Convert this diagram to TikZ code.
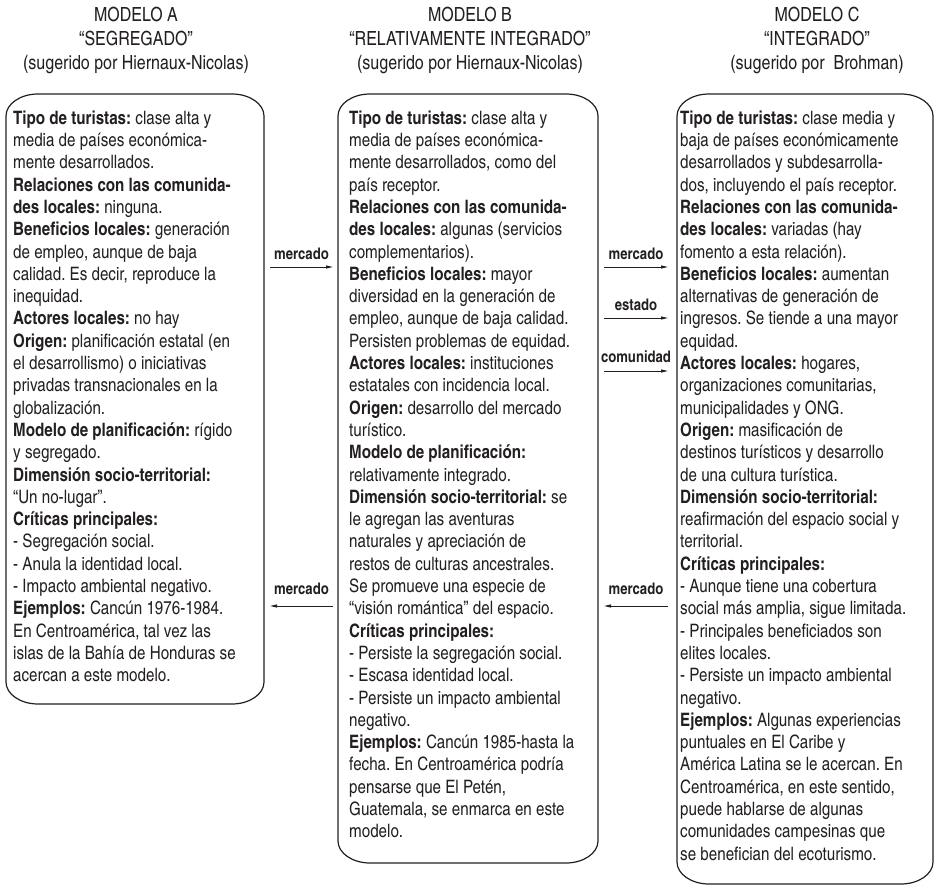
\documentclass[tikz,border=0pt]{standalone}
\usepackage{fontspec}
\setmainfont{texgyreheroscn}[Extension=.otf, UprightFont=*-regular, BoldFont=*-bold, ItalicFont=*-italic, BoldItalicFont=*-bolditalic]
\usetikzlibrary{arrows.meta,calc}
\definecolor{ink}{HTML}{231F20}
\frenchspacing
\tikzset{
  box/.style={anchor=north west, inner sep=0pt, outer sep=0pt},
  boxline/.style={draw=ink, line width=1.2pt},
  body/.style={anchor=north west, inner sep=0pt, align=left, text=ink, font=\fontsize{18.5}{22.3}\selectfont\frenchspacing},
  title/.style={anchor=north, inner sep=0pt, align=center, text=ink, font=\fontsize{19.5}{23.8}\selectfont\frenchspacing},
  lbl/.style={inner sep=0pt, text=ink, font=\fontsize{16}{18}\selectfont\bfseries},
  flow/.style={draw=ink, line width=0.9pt, -{Triangle[length=7pt,width=3pt]}}
}
% outline with elliptical corners round a named node
\newcommand\roundoutline[1]{%
\draw[boxline] ($(#1.north west)+(32,0)$) -- ($(#1.north east)+(-32,0)$)
 .. controls ($(#1.north east)+(-14.3,0)$) and ($(#1.north east)+(0,9.9)$) .. ($(#1.north east)+(0,22)$)
 -- ($(#1.south east)+(0,-22)$)
 .. controls ($(#1.south east)+(0,-9.9)$) and ($(#1.south east)+(-14.3,0)$) .. ($(#1.south east)+(-32,0)$)
 -- ($(#1.south west)+(32,0)$)
 .. controls ($(#1.south west)+(14.3,0)$) and ($(#1.south west)+(0,-9.9)$) .. ($(#1.south west)+(0,-22)$)
 -- ($(#1.north west)+(0,22)$)
 .. controls ($(#1.north west)+(0,9.9)$) and ($(#1.north west)+(14.3,0)$) .. cycle;}
\begin{document}
\begin{tikzpicture}[x=1pt,y=-1pt]
\useasboundingbox (0,0) rectangle (937,890);

% titles
\node[title] (tA) at (136,7) {MODELO A\\“SEGREGADO”\\(sugerido por Hiernaux-Nicolas)};
\node[title] (tB) at (470,7) {MODELO B\\“RELATIVAMENTE INTEGRADO”\\(sugerido por Hiernaux-Nicolas)};
\node[title] (tC) at (817,7) {MODELO C\\“INTEGRADO”\\(sugerido por \ Brohman)};

% boxes
\node[box, minimum width=258pt, minimum height=610pt] (boxA) at (6,94) {};
\node[box, minimum width=260pt, minimum height=769pt] (boxB) at (338,94) {};
\node[box, minimum width=256pt, minimum height=790pt] (boxC) at (677,94) {};
\roundoutline{boxA}
\roundoutline{boxB}
\roundoutline{boxC}

% texts
\node[body] (txtA) at (13,110.5) {\textbf{Tipo de turistas:} clase alta y\\
media de países económica-\\
mente desarrollados.\\
\textbf{Relaciones con las comunida-}\\
\textbf{des locales:} ninguna.\\
\textbf{Beneficios locales:} generación\\
de empleo, aunque de baja\\
calidad. Es decir, reproduce la\\
inequidad.\\
\textbf{Actores locales:} no hay\\
\textbf{Origen:} planificación estatal (en\\
el desarrollismo) o iniciativas\\
privadas transnacionales en la\\
globalización.\\
\textbf{Modelo de planificación:} rígido\\
y segregado.\\
\textbf{Dimensión socio-territorial:}\\
“Un no-lugar”.\\
\textbf{Críticas principales:}\\
- Segregación social.\\
- Anula la identidad local.\\
- Impacto ambiental negativo.\\
\textbf{Ejemplos:} Cancún 1976-1984.\\
En Centroamérica, tal vez las\\
islas de la Bahía de Honduras se\\
acercan a este modelo.};

\node[body] (txtB) at (349,110.5) {\textbf{Tipo de turistas:} clase alta y\\
media de países económica-\\
mente desarrollados, como del\\
país receptor.\\
\textbf{Relaciones con las comunida-}\\
\textbf{des locales:} algunas (servicios\\
complementarios).\\
\textbf{Beneficios locales:} mayor\\
diversidad en la generación de\\
empleo, aunque de baja calidad.\\
Persisten problemas de equidad.\\
\textbf{Actores locales:} instituciones\\
estatales con incidencia local.\\
\textbf{Origen:} desarrollo del mercado\\
turístico.\\
\textbf{Modelo de planificación:}\\
relativamente integrado.\\
\textbf{Dimensión socio-territorial:} se\\
le agregan las aventuras\\
naturales y apreciación de\\
restos de culturas ancestrales.\\
Se promueve una especie de\\
“visión romántica” del espacio.\\
\textbf{Críticas principales:}\\
- Persiste la segregación social.\\
- Escasa identidad local.\\
- Persiste un impacto ambiental\\
negativo.\\
\textbf{Ejemplos:} Cancún 1985-hasta la\\
fecha. En Centroamérica podría\\
pensarse que El Petén,\\
Guatemala, se enmarca en este\\
modelo.};

\node[body] (txtC) at (680,110.5) {\textbf{Tipo de turistas:} clase media y\\
baja de países económicamente\\
desarrollados y subdesarrolla-\\
dos, incluyendo el país receptor.\\
\textbf{Relaciones con las comunida-}\\
\textbf{des locales:} variadas (hay\\
fomento a esta relación).\\
\textbf{Beneficios locales:} aumentan\\
alternativas de generación de\\
ingresos. Se tiende a una mayor\\
equidad.\\
\textbf{Actores locales:} hogares,\\
organizaciones comunitarias,\\
municipalidades y ONG.\\
\textbf{Origen:} masificación de\\
destinos turísticos y desarrollo\\
de una cultura turística.\\
\textbf{Dimensión socio-territorial:}\\
reafirmación del espacio social y\\
territorial.\\
\textbf{Críticas principales:}\\
- Aunque tiene una cobertura\\
social más amplia, sigue limitada.\\
- Principales beneficiados son\\
elites locales.\\
- Persiste un impacto ambiental\\
negativo.\\
\textbf{Ejemplos:} Algunas experiencias\\
puntuales en El Caribe y\\
América Latina se le acercan. En\\
Centroamérica, en este sentido,\\
puede hablarse de algunas\\
comunidades campesinas que\\
se benefician del ecoturismo.};

% connectors A <-> B
\coordinate (ab1s) at (270,267);
\coordinate (ab1e) at (333,267);
\node[lbl] (lab1) at (301.5,254) {mercado};
\draw[flow] (ab1s) -- (ab1e);

\coordinate (ab2s) at (333,606);
\coordinate (ab2e) at (270,606);
\node[lbl] (lab2) at (301.5,589) {mercado};
\draw[flow] (ab2s) -- (ab2e);

% connectors B <-> C
\coordinate (bc1s) at (604,267);
\coordinate (bc1e) at (668,267);
\node[lbl] (lbc1) at (636,254) {mercado};
\draw[flow] (bc1s) -- (bc1e);

\coordinate (bc2s) at (604,318);
\coordinate (bc2e) at (668,318);
\node[lbl] (lbc2) at (636,305) {estado};
\draw[flow] (bc2s) -- (bc2e);

\coordinate (bc3s) at (604,371);
\coordinate (bc3e) at (668,371);
\node[lbl] (lbc3) at (636,357) {comunidad};
\draw[flow] (bc3s) -- (bc3e);

\coordinate (bc4s) at (668,606);
\coordinate (bc4e) at (604,606);
\node[lbl] (lbc4) at (636,589) {mercado};
\draw[flow] (bc4s) -- (bc4e);
\end{tikzpicture}
\end{document}
